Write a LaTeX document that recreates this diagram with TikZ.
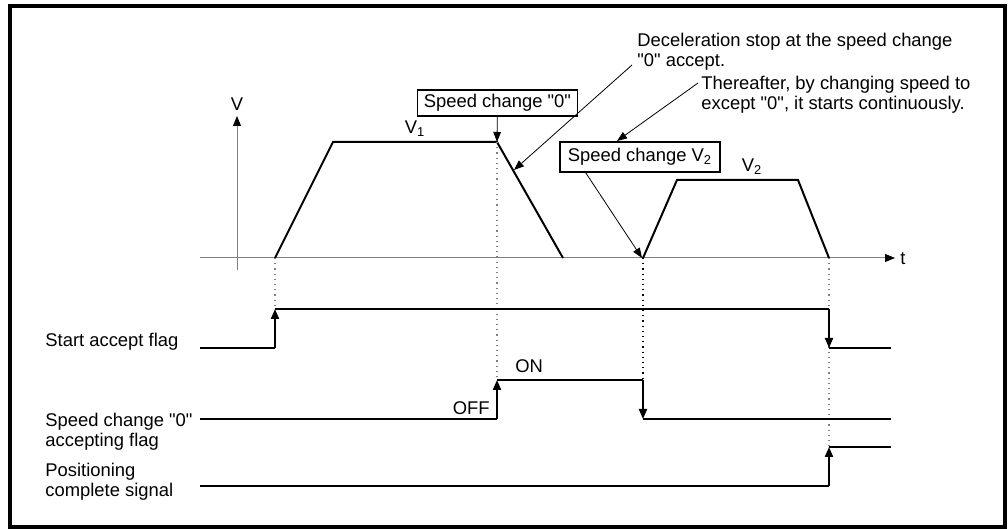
\documentclass[tikz,border=0pt]{standalone}
\usepackage{fontspec}
\setmainfont{Liberation Sans}[Ligatures=TeXOff]
\usetikzlibrary{arrows.meta}

\begin{document}
\begin{tikzpicture}[
    x=0.5pt, y=-0.5pt,
    txt/.style={font=\fontsize{9.2}{9.8}\selectfont, inner sep=0pt, align=left},
    tag/.style={draw, line width=0.6pt, font=\fontsize{9.2}{10}\selectfont, inner sep=0pt, minimum width=80pt},
    wave/.style={line width=1pt},
    flip/.style={line width=1pt, -{Triangle[length=5pt,width=4pt]}},
    callout/.style={line width=0.4pt, -{Triangle[length=5pt,width=3.8pt]}},
    axisline/.style={gray, line width=0.5pt, -{Triangle[black,length=5pt,width=4pt]}},
    guide/.style={gray, dotted, line width=0.6pt}
]
    \useasboundingbox (0,0) rectangle (1008,529);

    % Frame
    \draw[line width=2pt] (10,6) rectangle (1004.5,527.5);

    % Axes
    \draw[axisline] (200,258) -- (895,258);
    \draw[axisline] (237,270) -- (237,116);
    \node[txt] (vlabel) at (237,104) {V};
    \node[txt] (tlabel) at (903,259) {t};

    % Speed profiles
    \draw[wave] (275,258) -- (333,142) -- (497,142) -- (563,258);
    \draw[wave] (643,258) -- (677,180) -- (798,180) -- (829,258);
    \node[txt] (v1) at (415,129) {V\textsubscript{1}};
    \node[txt] (v2) at (752,167) {V\textsubscript{2}};

    % Boxes
    \node[tag, minimum height=13pt] (sc0) at (497.5,103) {Speed change "0"};
    \node[tag, minimum height=15pt] (scv2) at (640,157) {Speed change V\textsubscript{2}};

    % Notes
    \node[txt, anchor=north west] (decel) at (637,33) {Deceleration stop at the speed change\\"0" accept.};
    \node[txt, anchor=north west] (there) at (701,76) {Thereafter, by changing speed to\\except "0", it starts continuously.};

    % Callouts
    \coordinate (v1end) at (497,142);
    \coordinate (decelhead) at (514,170);
    \coordinate (decelstart) at (632,65);
    \coordinate (theretail) at (698,83);
    \coordinate (therehead) at (617,141);
    \coordinate (v2start) at (642,258);
    \draw[callout] (sc0) -- (v1end);
    \draw[callout] (decelstart) -- (decelhead);
    \draw[callout] (theretail) -- (therehead);
    \draw[callout] (scv2.196) -- (v2start);

    % Guides
    \draw[guide] (275,258) -- (275,309);
    \draw[guide] (497,142) -- (497,380);
    \draw[guide, black] (643,258) -- (643,380);
    \draw[guide] (829,258) -- (829,447);

    % Start accept flag
    \node[txt, anchor=west] (startlbl) at (45,342) {Start accept flag};
    \draw[wave] (200,348) -- (275,348);
    \draw[flip] (275,348) -- (275,309);
    \draw[wave] (275,309) -- (829,309);
    \draw[flip] (829,309) -- (829,348);
    \draw[wave] (829,348) -- (891,348);

    % Speed change "0" accepting flag
    \node[txt, anchor=north west] (zerolbl) at (45,413) {Speed change "0"\\accepting flag};
    \draw[wave] (200,419) -- (497,419);
    \draw[flip] (497,419) -- (497,380);
    \draw[wave] (497,380) -- (643,380);
    \draw[flip] (643,380) -- (643,419);
    \draw[wave] (643,419) -- (891,419);
    \node[txt, anchor=west] (onlbl) at (515,366) {ON};
    \node[txt, anchor=east] (offlbl) at (490,408) {OFF};

    % Positioning complete signal
    \node[txt, anchor=north west] (poslbl) at (45,463) {Positioning\\complete signal};
    \draw[wave] (200,486) -- (829,486);
    \draw[flip] (829,486) -- (829,447);
    \draw[wave] (829,447) -- (891,447);
\end{tikzpicture}
\end{document}
